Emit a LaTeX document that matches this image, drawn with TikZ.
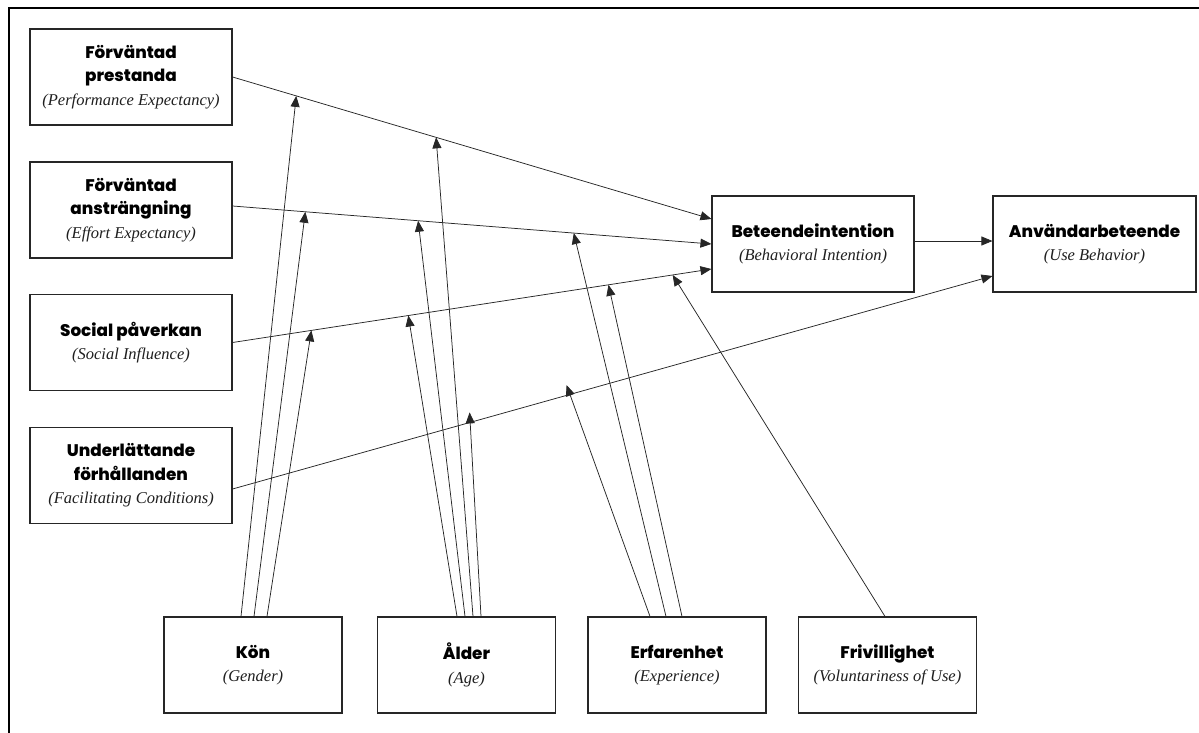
\documentclass[tikz,border=0pt]{standalone}
\usepackage{fontspec}
\IfFontExistsTF{Poppins ExtraBold}
  {\newfontfamily\headfont{Poppins}[BoldFont={Poppins ExtraBold}]}
  {\newfontfamily\headfont{Poppins}}
\newfontfamily\enfont{Liberation Serif}
\usetikzlibrary{arrows.meta,calc}
\newcommand\hd[1]{{\headfont\bfseries\fontsize{16.8}{23.5}\selectfont #1}}
\newcommand\en[1]{{\enfont\color{black!88}\fontsize{16.5}{23.5}\selectfont\itshape #1}}
\tikzset{
  box/.style={draw=black!85, line width=1.1pt, fill=white, minimum height=96pt,
    align=center, inner sep=0pt, font=\fontsize{15}{23.5}\selectfont},
  sidebox/.style={box, minimum width=202pt},
  lowbox/.style={box, minimum width=178pt},
  conn/.style={draw=black!85, line width=0.75pt, -{Triangle[length=11pt,width=9pt]}},
  over/.style={shorten >=-10pt},
}
\begin{document}
\begin{tikzpicture}[x=1pt,y=-1pt]
\useasboundingbox (0,0) rectangle (1199,733);
\draw[line width=1.3pt] (9,733) -- (9,8) -- (1199,8);

\node[sidebox] (b1) at (131,77) {\hd{Förväntad}\\\hd{prestanda}\\\en{(Performance Expectancy)}};
\node[sidebox] (b2) at (131,210) {\hd{Förväntad}\\\hd{ansträngning}\\\en{(Effort Expectancy)}};
\node[sidebox] (b3) at (131,342.5) {\hd{Social påverkan}\\\en{(Social Influence)}};
\node[sidebox] (b4) at (131,475.5) {\hd{Underlättande}\\\hd{förhållanden}\\\en{(Facilitating Conditions)}};
\node[sidebox] (bi) at (813,244) {\hd{Beteendeintention}\\\en{(Behavioral Intention)}};
\node[sidebox, minimum width=203pt] (ab) at (1094.5,244) {\hd{Användarbeteende}\\\en{(Use Behavior)}};
\node[lowbox] (kon) at (253,665) {\hd{Kön}\\\en{(Gender)}};
\node[lowbox] (alder) at (466.5,665) {\hd{Ålder}\\\en{(Age)}};
\node[lowbox] (erf) at (677,665) {\hd{Erfarenhet}\\\en{(Experience)}};
\node[lowbox] (friv) at (887.5,665) {\hd{Frivillighet}\\\en{(Voluntariness of Use)}};

% main paths
\draw[conn] (b1.east) -- coordinate[pos=0.133] (p1k) coordinate[pos=0.425] (p1a) ($(bi.west)+(0,-25)$);
\draw[conn] ($(b2.east)+(0,-4)$) -- coordinate[pos=0.152] (p2k) coordinate[pos=0.3875] (p2a) coordinate[pos=0.7125] (p2e) (bi.west);
\draw[conn] (b3.east) -- coordinate[pos=0.1646] (p3k) coordinate[pos=0.367] (p3a) coordinate[pos=0.785] (p3e) coordinate[pos=0.919] (p3f) ($(bi.west)+(0,25)$);
\draw[conn] ($(b4.east)+(0,13.5)$) -- coordinate[pos=0.3127] (p4a) coordinate[pos=0.444] (p4e) ($(ab.west)+(0,32)$);
\draw[conn] ($(bi.east)+(0,-3)$) -- ($(ab.west)+(0,-3)$);

% moderators
\draw[conn] ($(kon.north)+(-12,0)$) -- (p1k);
\draw[conn] ($(kon.north)+(1,0)$) -- (p2k);
\draw[conn] ($(kon.north)+(14,0)$) -- (p3k);

\draw[conn] ($(alder.north)+(-9.5,0)$) -- (p3a);
\draw[conn] ($(alder.north)+(-1.5,0)$) -- (p2a);
\draw[conn] ($(alder.north)+(6.5,0)$) -- (p1a);
\draw[conn, over] ($(alder.north)+(14.5,0)$) -- (p4a);

\draw[conn, over] ($(erf.north)+(-27,0)$) -- (p4e);
\draw[conn] ($(erf.north)+(-11,0)$) -- (p2e);
\draw[conn] ($(erf.north)+(5,0)$) -- (p3e);

\draw[conn] ($(friv.north)+(-2.5,0)$) -- (p3f);
\end{tikzpicture}
\end{document}
